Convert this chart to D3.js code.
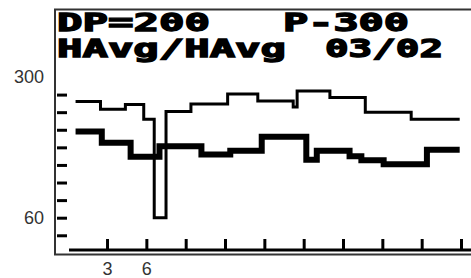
<!DOCTYPE html>
<html>
<head>
<meta charset="utf-8">
<script src="https://cdn.jsdelivr.net/npm/d3@7"></script>
<style>
    body { margin: 0; background: #fff; }
    svg { display: block; }
</style>
</head>
<body>
<div id="chart"></div>
<script>
// Upper (thin) step line: breakpoints on x, one value per step
const upperX = [0.6, 2.5, 4.4, 5.8, 6.6, 7.5, 9.4, 12.2, 14.5, 17.2, 17.5, 20.0, 22.7, 26.2, 29.9];
const upperY = [258, 245, 253, 228, 60, 241, 254, 271, 259, 249, 276, 265, 240, 228];

// Lower (thick) step line
const lowerX = [0.6, 2.6, 4.8, 7.0, 10.2, 12.4, 14.8, 18.2, 19.0, 21.5, 22.4, 24.1, 27.4, 29.9];
const lowerY = [207, 188, 164, 182, 168, 174, 198, 159, 174, 165, 158, 151, 176];

const xTicks = [3, 6, 9, 12, 15, 18, 21, 24, 27, 30];
const xLabels = [3, 6];
const yTicks = [30, 60, 90, 120, 150, 180, 210, 240, 270];
const yLabels = [60, 300];

const titleLine1 = ["DP=200", "P-300"];
const titleLine2 = ["HAvg/HAvg", "03/02"];

const width = 471, height = 278;

const svg = d3.select("#chart").append("svg")
    .attr("width", width)
    .attr("height", height)
    .style("font-family", "'Liberation Sans', Arial, sans-serif");

const x = d3.scaleLinear().domain([0, 30]).range([67.7, 461]);
const y = d3.scaleLinear().domain([60, 300]).range([217.7, 77]);

// frame
svg.append("path")
    .attr("d", "M471,9.5 H55 V254.5 H471")
    .attr("fill", "none")
    .attr("stroke", "#333")
    .attr("stroke-width", 2);

// title, bold mono text stretched to the width of the LCD font
const titleFont = "'DejaVu Sans Mono', 'Liberation Mono', monospace";
[[titleLine1, 31, [[57, 153], [283, 126]]], [titleLine2, 57, [[57, 229], [325, 118]]]].forEach(([words, base, boxes]) => {
    words.forEach((w, i) => {
        svg.append("text")
            .attr("x", boxes[i][0])
            .attr("y", base)
            .attr("textLength", boxes[i][1])
            .attr("lengthAdjust", "spacingAndGlyphs")
            .style("font-family", titleFont)
            .style("font-weight", "bold")
            .style("font-size", "24px")
            .style("fill", "#000")
            .style("stroke", "#000")
            .style("stroke-width", "1.3px")
            .text(w);
    });
});

// y tick dashes
const yDash = svg.append("g")
    .attr("transform", "translate(67,0)")
    .call(d3.axisLeft(y).tickValues(yTicks).tickSize(10).tickFormat(""));
yDash.select(".domain").remove();
yDash.selectAll(".tick line").attr("stroke", "#000").attr("stroke-width", 3);

// y labels
const yLab = svg.append("g")
    .attr("transform", "translate(44,0)")
    .call(d3.axisLeft(y).tickValues(yLabels).tickSize(0).tickPadding(0));
yLab.select(".domain").remove();
yLab.selectAll("text")
    .style("font-size", "18px")
    .style("font-family", "'Liberation Sans', Arial, sans-serif")
    .attr("fill", "#333");

// x axis baseline with upward ticks
const xAxis = svg.append("g")
    .attr("transform", "translate(0,250)")
    .call(d3.axisBottom(x).tickValues(xTicks).tickSize(-11).tickFormat(""));
xAxis.select(".domain").remove();
xAxis.selectAll(".tick line").attr("stroke", "#000").attr("stroke-width", 3);
xAxis.append("line")
    .attr("x1", x(0.1)).attr("x2", width)
    .attr("stroke", "#000").attr("stroke-width", 3);

const xLab = svg.append("g")
    .attr("transform", "translate(0,262)")
    .call(d3.axisBottom(x).tickValues(xLabels).tickSize(0).tickPadding(0));
xLab.select(".domain").remove();
xLab.selectAll("text")
    .style("font-size", "18px")
    .style("font-family", "'Liberation Sans', Arial, sans-serif")
    .attr("fill", "#333");

// step lines
function stepPoints(xs, ys) {
    const pts = ys.map((v, i) => [xs[i], v]);
    pts.push([xs[xs.length - 1], ys[ys.length - 1]]);
    return pts;
}

const line = d3.line()
    .x(d => x(d[0]))
    .y(d => y(d[1]))
    .curve(d3.curveStepAfter);

svg.append("path")
    .datum(stepPoints(upperX, upperY))
    .attr("d", line)
    .attr("fill", "none")
    .attr("stroke", "#000")
    .attr("stroke-width", 3)
    .attr("stroke-linejoin", "miter");

svg.append("path")
    .datum(stepPoints(lowerX, lowerY))
    .attr("d", line)
    .attr("fill", "none")
    .attr("stroke", "#000")
    .attr("stroke-width", 6)
    .attr("stroke-linejoin", "miter");
</script>
</body>
</html>
